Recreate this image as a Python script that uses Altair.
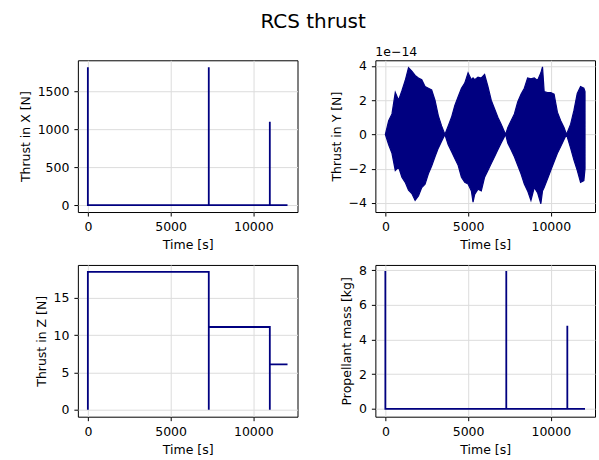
import altair as alt
import pandas as pd

FONT = "DejaVu Sans"
NAVY = "#000080"

# Step-like series (time in s)
t_spike = [0, 0, 0, 7310, 7310, 7310, 11000, 11000, 11000, 12070]
thrust_x = [0, 1820, 0, 0, 1820, 0, 0, 1100, 0, 0]
prop_mass = [0, 7.95, 0, 0, 7.95, 0, 0, 4.8, 0, 0]

t_z = [0, 0, 7310, 7310, 7310, 11000, 11000, 11000, 12070]
thrust_z = [0, 18.5, 18.5, 0, 11.1, 11.1, 0, 6.1, 6.1]

# Thrust in Y: envelope of the oscillation (units of 1e-14 N)
t_y = [0, 200, 400, 600, 800, 1000, 1200, 1400, 1600, 1800, 2000, 2200, 2400, 2600,
       2800, 3000, 3200, 3400, 3600, 3800, 4000, 4200, 4400, 4600, 4800, 5000, 5200,
       5300, 5400, 5600, 5800, 6000, 6200, 6400, 6600, 6800, 7000, 7270, 7400, 7600,
       7800, 8000, 8200, 8400, 8600, 8800, 9000, 9200, 9400, 9500, 9600, 9800, 10000,
       10200, 10400, 10600, 10800, 10950, 11200, 11400, 11600, 11800, 12000, 12070]
y_upper = [0, 0.8, 1.2, 2.45, 2.0, 2.55, 3.15, 3.9, 3.7, 3.45, 3.3, 3.2, 2.8, 2.7,
           2.6, 2.0, 1.1, 0.5, 0, 0.5, 1.0, 1.7, 2.2, 2.7, 3.0, 3.6, 3.2,
           3.3, 3.2, 3.35, 3.3, 3.5, 2.8, 2.0, 1.5, 1.0, 0.6, 0, 0.4, 0.8,
           1.2, 1.9, 2.35, 2.7, 3.3, 3.25, 3.3, 3.15, 3.6, 3.95, 2.5, 2.45, 2.45,
           2.35, 1.3, 0.8, 0.4, 0, 0.6, 1.4, 2.4, 2.8, 2.7, 2.5]
y_lower = [0, -0.6, -1.1, -2.1, -1.9, -2.5, -2.8, -3.25, -3.45, -3.85, -3.6, -3.1, -2.9, -2.3,
           -1.85, -1.3, -0.8, -0.4, 0, -0.6, -1.0, -1.4, -1.8, -2.5, -2.8, -2.9, -3.3,
           -3.95, -3.5, -3.2, -3.3, -2.5, -2.1, -1.7, -1.3, -0.9, -0.5, 0, -0.5, -0.9,
           -1.3, -1.8, -2.3, -2.9, -3.3, -3.85, -3.1, -3.4, -4.05, -3.3, -3.1, -2.6, -2.1,
           -1.6, -1.1, -0.7, -0.3, 0, -0.8, -1.5, -2.1, -2.8, -2.7, -2.0]
y_offset_text = ["1e\u221214"]

x_ticks = [0, 5000, 10000]
XDOM = [-603.5, 12673.5]
W, H = 220, 152


def x_enc():
    return alt.X("t:Q", scale=alt.Scale(domain=XDOM, nice=False, zero=False),
                 axis=alt.Axis(values=x_ticks, format="d", title="Time [s]"))


def step_panel(t, v, ytitle, ydom, yticks):
    df = pd.DataFrame({"t": t, "v": v, "i": list(range(len(t)))})
    return alt.Chart(df).mark_line(color=NAVY, strokeWidth=1.8).encode(
        x=x_enc(),
        y=alt.Y("v:Q", scale=alt.Scale(domain=ydom, nice=False, zero=False),
                axis=alt.Axis(values=yticks, format="d", title=ytitle)),
        order="i:Q",
    ).properties(width=W, height=H)


p_x = step_panel(t_spike, thrust_x, "Thrust in X [N]", [-91, 1911], [0, 500, 1000, 1500])
p_z = step_panel(t_z, thrust_z, "Thrust in Z [N]", [-0.925, 19.425], [0, 5, 10, 15])
p_m = step_panel(t_spike, prop_mass, "Propellant mass [kg]", [-0.45, 8.3], [0, 2, 4, 6, 8])

df_y = pd.DataFrame({"t": t_y, "hi": y_upper, "lo": y_lower})
area_y = alt.Chart(df_y).mark_area(color=NAVY, stroke=NAVY, strokeWidth=1.2, opacity=1).encode(
    x=x_enc(),
    y=alt.Y("hi:Q", scale=alt.Scale(domain=[-4.533, 4.333], nice=False, zero=False),
            axis=alt.Axis(values=[-4, -2, 0, 2, 4], format="d", title="Thrust in Y [N]")),
    y2="lo:Q",
)
txt_y = alt.Chart(pd.DataFrame({"s": y_offset_text})).mark_text(
    align="left", baseline="alphabetic", font=FONT, fontSize=12.5, color="#000"
).encode(x=alt.value(0), y=alt.value(-4), text="s:N")
p_y = alt.layer(area_y, txt_y).properties(width=W, height=H)

chart = alt.concat(
    p_x, p_y, p_z, p_m, columns=2,
    spacing=alt.RowColnumber(row=53, column=78),
    bounds="flush",
).properties(
    title=alt.TitleParams("RCS thrust", font=FONT, fontSize=20, fontWeight="normal",
                          color="#000", anchor="middle", offset=14, dx=6),
    padding={"left": 18, "top": 11, "right": 3, "bottom": 3},
    background="white",
).configure_view(
    stroke="#000", strokeWidth=1, fill=None
).configure_axis(
    grid=True, gridColor="#dcdcdc", gridWidth=1, domain=False,
    tickColor="#000", tickSize=4, tickWidth=1,
    labelFont=FONT, labelFontSize=12.5, labelColor="#000", labelPadding=5,
    labelFlush=False, labelOverlap=False,
    titleFont=FONT, titleFontSize=12.5, titleFontWeight="normal", titleColor="#000",
    titlePadding=5,
)

chart.save("out.html", embed_options={"renderer": "svg", "actions": False})
